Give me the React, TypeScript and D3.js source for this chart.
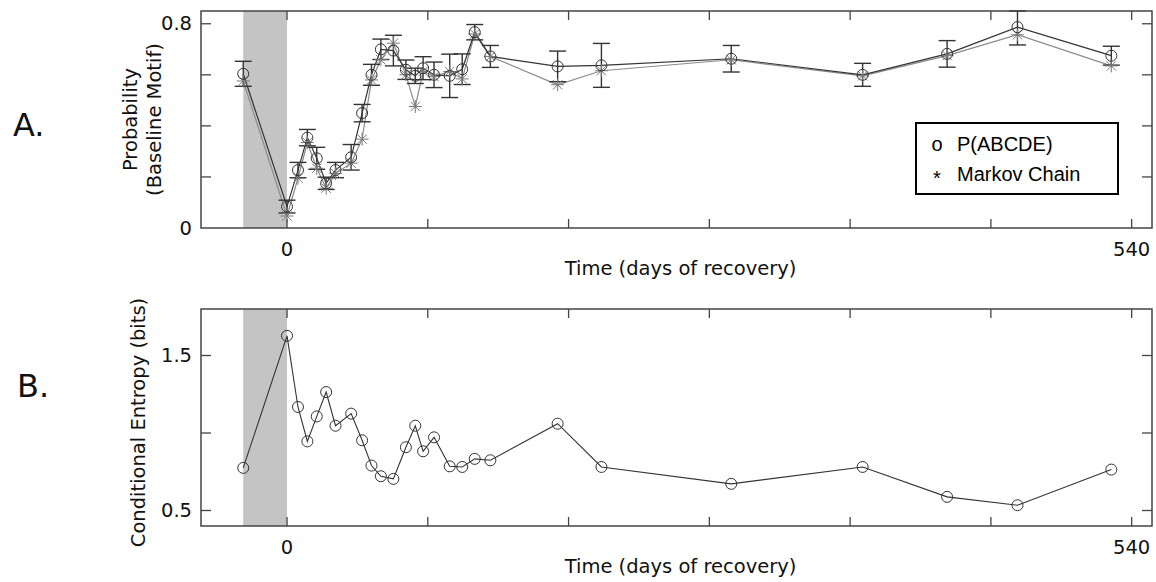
import React from "react";
import * as d3 from "d3";

// ---- data ----
const days = [-28, 0, 7, 13, 19, 25, 31, 41, 48, 54, 60, 68, 76, 82, 87, 94, 104, 112, 120, 130, 173, 201, 284, 368, 422, 467, 527];
const pABCDE = [0.604, 0.084, 0.227, 0.354, 0.273, 0.175, 0.227, 0.277, 0.45, 0.6, 0.7, 0.695, 0.62, 0.596, 0.626, 0.6, 0.596, 0.622, 0.767, 0.672, 0.633, 0.637, 0.663, 0.6, 0.682, 0.787, 0.675];
const markov = [0.576, 0.047, 0.195, 0.335, 0.234, 0.156, 0.214, 0.254, 0.348, 0.58, 0.659, 0.724, 0.6, 0.476, 0.613, 0.593, 0.613, 0.584, 0.76, 0.672, 0.561, 0.616, 0.659, 0.596, 0.675, 0.757, 0.635];
const pErr = [0.049, 0.025, 0.03, 0.032, 0.043, 0.024, 0.03, 0.05, 0.034, 0.041, 0.04, 0.06, 0.038, 0.03, 0.045, 0.05, 0.085, 0.06, 0.03, 0.043, 0.06, 0.086, 0.052, 0.045, 0.052, 0.07, 0.037];
const entropy = [0.775, 1.627, 1.168, 0.946, 1.107, 1.264, 1.047, 1.125, 0.953, 0.79, 0.721, 0.704, 0.908, 1.047, 0.882, 0.972, 0.785, 0.781, 0.833, 0.824, 1.06, 0.781, 0.672, 0.781, 0.588, 0.534, 0.764];
const xTicks = [0, 90, 180, 270, 360, 450, 540];
const xTickLabels = ["0", "540"];
const yTicksA = [0.2, 0.4, 0.6, 0.8];
const yTickLabelsA = ["0", "0.8"];
const yTicksB = [0.5, 1.0, 1.5];
const yTickLabelsB = ["0.5", "1.5"];
const lesionStart = -28;
const lesionEnd = 0;

const W = 1156, H = 582;
const L = 201, R = 1152;
const FONT = "'DejaVu Sans', sans-serif";

const x = d3.scaleLinear().domain([-55, 553]).range([L, R]);
const yA = d3.scaleLinear().domain([0, 0.85]).range([228, 11]);
const yB = d3.scaleLinear().domain([0.4, 1.8]).range([526, 309]);

function Star({ cx, cy, r, color }: { cx: number; cy: number; r: number; color: string }) {
  const d = r * 0.72;
  return (
    <g stroke={color} strokeWidth={1}>
      <line x1={cx - r} y1={cy} x2={cx + r} y2={cy} />
      <line x1={cx} y1={cy - r} x2={cx} y2={cy + r} />
      <line x1={cx - d} y1={cy - d} x2={cx + d} y2={cy + d} />
      <line x1={cx - d} y1={cy + d} x2={cx + d} y2={cy - d} />
    </g>
  );
}

function Frame({ y, ticksY }: { y: d3.ScaleLinear<number, number>; ticksY: number[] }) {
  const [b, t] = y.range();
  const tl = 9;
  const col = "#444";
  return (
    <g>
      <rect x={L} y={t} width={R - L} height={b - t} fill="none" stroke={col} strokeWidth={1.5} />
      {xTicks.map((v) => (
        <g key={"x" + v} stroke={col} strokeWidth={1.3}>
          <line x1={x(v)} x2={x(v)} y1={b} y2={b - tl} />
          <line x1={x(v)} x2={x(v)} y1={t} y2={t + tl} />
        </g>
      ))}
      {ticksY.map((v) => (
        <g key={"y" + v} stroke={col} strokeWidth={1.3}>
          <line x1={L} x2={L + tl + 1} y1={y(v)} y2={y(v)} />
          <line x1={R} x2={R - tl - 1} y1={y(v)} y2={y(v)} />
        </g>
      ))}
    </g>
  );
}

function XAxisText({ y }: { y: d3.ScaleLinear<number, number> }) {
  const b = y.range()[0];
  return (
    <g fontFamily={FONT} fontSize={19.5} fill="#111">
      {xTickLabels.map((s) => (
        <text key={s} x={x(+s)} y={b + 21} textAnchor="middle" dominantBaseline="central">{s}</text>
      ))}
      <text x={(L + R) / 2 + 4} y={b + 40} textAnchor="middle" dominantBaseline="central">Time (days of recovery)</text>
    </g>
  );
}

function YTickText({ y, labels }: { y: d3.ScaleLinear<number, number>; labels: string[] }) {
  return (
    <g fontFamily={FONT} fontSize={19.5} fill="#111">
      {labels.map((s) => (
        <text key={s} x={192} y={y(+s)} textAnchor="end" dominantBaseline="central">{s}</text>
      ))}
    </g>
  );
}

export default function App() {
  const lineA = d3.line<number>().x((_, i) => x(days[i])).y((v) => yA(v));
  const lineB = d3.line<number>().x((_, i) => x(days[i])).y((v) => yB(v));
  const [bA, tA] = yA.range();
  const [bB, tB] = yB.range();
  const midA = (bA + tA) / 2;
  const midB = (bB + tB) / 2;
  return (
    <svg width={W} height={H} style={{ position: "absolute", left: 0, top: 0, background: "#fff" }}>
      {/* panel A */}
      <rect x={x(lesionStart)} y={tA} width={x(lesionEnd) - x(lesionStart)} height={bA - tA} fill="#c4c4c4" />
      <path d={lineA(markov) || ""} fill="none" stroke="#8a8a8a" strokeWidth={1.2} />
      <path d={lineA(pABCDE) || ""} fill="none" stroke="#333" strokeWidth={1.2} />
      {days.map((dd, i) => {
        const cx = x(dd);
        const y1 = yA(Math.min(pABCDE[i] + pErr[i], 0.85));
        const y2 = yA(pABCDE[i] - pErr[i]);
        return (
          <g key={"e" + i} stroke="#333" strokeWidth={1.4}>
            <line x1={cx} x2={cx} y1={y1} y2={y2} />
            <line x1={cx - 8.5} x2={cx + 8.5} y1={y1} y2={y1} />
            <line x1={cx - 8.5} x2={cx + 8.5} y1={y2} y2={y2} />
          </g>
        );
      })}
      {days.map((dd, i) => (
        <Star key={"s" + i} cx={x(dd)} cy={yA(markov[i])} r={6.5} color="#7a7a7a" />
      ))}
      {days.map((dd, i) => (
        <circle key={"c" + i} cx={x(dd)} cy={yA(pABCDE[i])} r={5.5} fill="none" stroke="#333" strokeWidth={1} />
      ))}
      <Frame y={yA} ticksY={yTicksA} />
      <YTickText y={yA} labels={yTickLabelsA} />
      <XAxisText y={yA} />
      <g fontFamily={FONT} fontSize={19.5} fill="#111">
        <text transform={`translate(130,${midA}) rotate(-90)`} textAnchor="middle" dominantBaseline="central">Probability</text>
        <text transform={`translate(154,${midA}) rotate(-90)`} textAnchor="middle" dominantBaseline="central">(Baseline Motif)</text>
      </g>
      {/* legend */}
      <g>
        <rect x={916} y={123} width={202} height={71} fill="#fff" stroke="#000" strokeWidth={2} />
        <g fontFamily="'Liberation Sans', Arial, sans-serif" fontSize={20} fill="#000">
          <text x={937} y={151} textAnchor="middle">o</text>
          <text x={937} y={185} textAnchor="middle">*</text>
          <text x={957} y={151}>P(ABCDE)</text>
          <text x={957} y={181}>Markov Chain</text>
        </g>
      </g>
      <text x={13} y={136} fontFamily={FONT} fontSize={32} fill="#111">A.</text>

      {/* panel B */}
      <rect x={x(lesionStart)} y={tB} width={x(lesionEnd) - x(lesionStart)} height={bB - tB} fill="#c4c4c4" />
      <path d={lineB(entropy) || ""} fill="none" stroke="#333" strokeWidth={1.1} />
      {days.map((dd, i) => (
        <circle key={"b" + i} cx={x(dd)} cy={yB(entropy[i])} r={5.5} fill="none" stroke="#333" strokeWidth={1} />
      ))}
      <Frame y={yB} ticksY={yTicksB} />
      <YTickText y={yB} labels={yTickLabelsB} />
      <XAxisText y={yB} />
      <g fontFamily={FONT} fontSize={19.5} fill="#111">
        <text transform={`translate(138,${midB + 5}) rotate(-90)`} textAnchor="middle" dominantBaseline="central">Conditional Entropy (bits)</text>
      </g>
      <text x={17} y={397} fontFamily={FONT} fontSize={32} fill="#111">B.</text>
    </svg>
  );
}
